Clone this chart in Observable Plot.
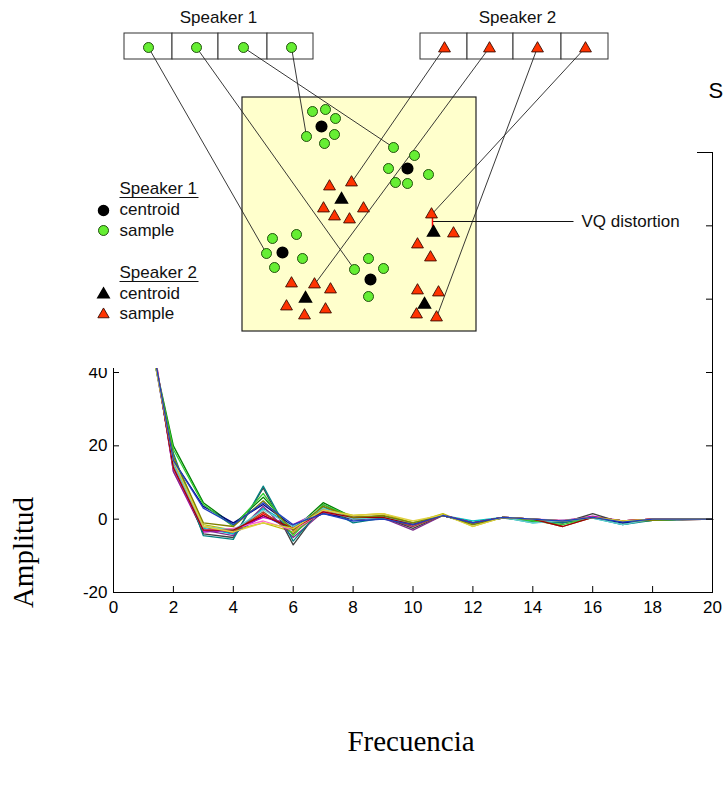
<!DOCTYPE html>
<html>
<head>
<meta charset="utf-8">
<script src="https://cdn.jsdelivr.net/npm/d3@7"></script>
<script src="https://cdn.jsdelivr.net/npm/@observablehq/plot@0.6"></script>
<style>
  html, body { margin: 0; padding: 0; background: #fff; }
  #wrap { position: relative; width: 724px; height: 785px; overflow: hidden; }
  #wrap svg { display: block; }
</style>
</head>
<body>
<div id="wrap"></div>
<script>
// ---------------- Line chart data (Amplitud vs Frecuencia) ----------------
const freq = [1,2,3,4,5,6,7,8,9,10,11,12,13,14,15,16,17,18,19,20];
const xTicks = [0,2,4,6,8,10,12,14,16,18,20];
const yTicks = [-20,0,20,40,60,80,100];
const seriesNames = ["s1","s2","s3","s4","s5","s6","s7","s8","s9","s10","s11","s12","s13","s14","s15","s16","s17","s18"];
const seriesColors = ["#0000ff","#008000","#ff0000","#00bfbf","#bf00bf","#bfbf00","#404040","#7e2f8e","#000080",
                      "#008080","#a0522d","#33cc33","#ff66cc","#66cccc","#a00000","#808000","#e0d040","#1f3fbf"];
const s1  = [60, 15, -2.0, -4.0, 1.0, -3.0, 2.0, 0.5, 0.5, -1.5, 1.0, -1.0, 0.5, 0.0, -0.5, 0.5, -0.5, 0.0, 0.0, 0];
const s2  = [57, 20, 4.5, -1.5, 6.0, -3.0, 4.5, 0.5, 0.8, -1.0, 1.0, -1.0, 0.5, -0.5, -0.5, 0.5, -0.5, -0.3, 0.0, 0];
const s3  = [63, 14, -3.0, -3.5, 1.5, -2.5, 2.0, 0.0, 0.5, -1.5, 1.0, -1.0, 0.3, 0.0, -1.0, 0.5, -0.5, 0.0, -0.2, 0];
const s4  = [61, 16, -2.5, -4.0, 3.0, -2.0, 3.0, 0.0, 0.5, -1.0, 1.0, -0.5, 0.5, -1.0, -0.3, 0.3, -1.5, 0.0, 0.0, 0];
const s5  = [64, 13, -3.5, -3.0, 0.5, -1.5, 2.5, 0.5, 0.3, -2.0, 1.2, -1.0, 0.5, 0.0, -0.5, 0.8, -0.5, 0.0, 0.0, 0];
const s6  = [59, 17, -1.5, -3.0, -1.0, -3.5, 3.0, 1.0, 1.5, -1.0, 1.5, -2.0, 0.5, 0.0, -0.5, 0.5, -0.5, -0.3, 0.0, 0];
const s7  = [62, 15, -4.0, -5.0, 8.5, -7.0, 4.0, 0.0, 0.5, -2.5, 1.0, -1.0, 0.5, -0.5, -1.0, 1.5, -1.0, -0.3, 0.0, 0];
const s8  = [65, 13, -3.0, -4.5, 3.5, -5.0, 2.0, 0.0, 0.3, -3.0, 1.0, -1.0, 0.3, 0.0, -0.5, 0.5, -0.5, 0.0, 0.0, 0];
const s9  = [60, 16, 3.5, -1.0, 4.0, -2.0, 1.5, 0.0, 0.3, -1.5, 1.0, -1.0, 0.5, 0.0, -0.5, 0.5, -1.0, 0.0, 0.0, 0];
const s10 = [58, 18, -4.5, -5.5, 9.0, -6.0, 3.5, -1.0, 0.3, -1.5, 1.0, -1.0, 0.3, -0.5, -1.0, 0.5, -1.5, -0.3, -0.2, 0];
const s11 = [63, 14, -2.0, -3.5, 2.0, -4.0, 2.5, 0.0, 0.5, -2.0, 1.0, -1.0, 0.5, 0.0, -2.0, 0.5, -0.5, 0.0, 0.0, 0];
const s12 = [57, 19, 4.0, -2.0, 7.0, -4.5, 4.0, 0.5, 0.5, -1.0, 1.0, -1.5, 0.5, -0.5, -1.5, 0.5, -0.5, -0.3, 0.0, 0];
const s13 = [64, 14, -3.0, -2.5, -0.5, -3.0, 2.0, 0.5, 0.5, -1.5, 1.0, -1.0, 0.5, 0.0, -0.3, 0.5, -0.5, 0.0, 0.0, 0];
const s14 = [61, 15, -2.0, -3.0, 2.5, -2.0, 3.0, 0.0, 0.5, -1.0, 1.0, -1.0, 0.5, -1.0, -0.5, 0.3, -1.5, 0.0, 0.0, 0];
const s15 = [62, 14, -3.0, -3.0, 1.0, -2.5, 2.0, 0.5, 0.5, -1.5, 1.0, -1.0, 0.5, 0.0, -2.0, 0.5, -0.5, 0.0, 0.0, 0];
const s16 = [60, 17, -1.0, -2.0, 5.0, -3.0, 3.5, 0.5, 1.0, -1.0, 1.0, -1.5, 0.5, 0.0, -0.5, 0.5, -0.5, -0.3, 0.0, 0];
const s17 = [59, 16, -2.0, -3.5, -1.0, -2.5, 2.5, 1.0, 1.5, -0.5, 1.2, -2.0, 0.5, 0.0, -0.5, 0.5, -0.5, 0.0, 0.0, 0];
const s18 = [61, 16, 3.0, -1.5, 4.5, -1.5, 1.5, -0.5, 0.0, -1.5, 1.0, -1.0, 0.5, 0.0, -0.5, 0.5, -0.8, 0.0, 0.0, 0];
const seriesValues = [s1,s2,s3,s4,s5,s6,s7,s8,s9,s10,s11,s12,s13,s14,s15,s16,s17,s18];
const xLabel = "Frecuencia";
const yLabel = "Amplitud";
const titleFragment = "S";

// ---------------- VQ diagram data (diagram units) ----------------
const codebook1Cells = [[124,172],[172,218],[218,267],[267,313]];
const codebook2Cells = [[420,467],[467,513],[513,561],[561,608]];
const codebookY = [33, 59];
const codebook1X = [148,196,243,291];
const codebook2X = [444,489,537,585];
const codewordY = 47;
const featureBox = [242, 476, 97, 331];
const spk1Samples = [
  [312,111],[325,109],[335,118],[306,136],[334,134],[324,143],
  [393,147],[414,155],[388,168],[428,174],[395,182],[407,183],
  [272,238],[296,234],[266,253],[302,258],[274,267],
  [354,269],[368,258],[383,268],[368,296]
];
const spk1Centroids = [[321,126],[407,168],[282,252],[370,279]];
const spk2Samples = [
  [329,186],[351,182],[323,208],[363,208],[334,216],[349,219],
  [291,283],[314,284],[330,289],[286,306],[325,309],[304,315],
  [431,214],[453,233],[417,244],[430,257],
  [417,290],[438,292],[416,314],[436,317]
];
const spk2Centroids = [[341,199],[305,298],[433,232],[424,304]];
const codeLinks = [
  [148,47,266,253],[196,47,354,269],[243,47,393,147],[291,47,306,136],
  [444,47,351,182],[489,47,314,284],[537,47,436,317],[585,47,431,214]
];
const headerLabels = [["Speaker 1",218,17],["Speaker 2",517,17]];
const legendText = [["Speaker 1",119,188],["centroid",119,209],["sample",119,230],["Speaker 2",119,272],["centroid",119,293],["sample",119,313]];
const legendUnderline = [[119,198,197],[119,198,281]];
const legendBlackDot = [[103,210]];
const legendGreenDot = [[103,230]];
const legendBlackTri = [[103,294]];
const legendRedTri = [[103,314]];
const distortionRed = [432,217,432,228];
const distortionLeader = [432,221,573,221];
const distortionLabel = ["VQ distortion",581,221];

// ---------------- Build line chart ----------------
const rows = [];
seriesValues.forEach((vals, i) => vals.forEach((v, j) => rows.push({s: seriesNames[i], x: freq[j], v})));

const W = 724, H = 785, mL = 113, mR = 12, mT = 152, mB = 193;
const plotW = W - mL - mR, plotH = H - mT - mB;
const serif = "'Liberation Serif', 'Times New Roman', serif";

const chart = Plot.plot({
  width: W, height: H,
  marginLeft: mL, marginRight: mR, marginTop: mT, marginBottom: mB,
  x: {domain: [0, 20]},
  y: {domain: [-20, 100]},
  color: {domain: seriesNames, range: seriesColors},
  style: {fontFamily: "'Liberation Sans', Arial, sans-serif", fontSize: "17px", color: "#000", background: "#fff"},
  marks: [
    Plot.lineY(rows, {x: "x", y: "v", z: "s", stroke: "s", strokeWidth: 1.3}),
    Plot.frame({stroke: "#000", strokeWidth: 1}),
    Plot.tickX(xTicks, {x: d => d, insetTop: plotH - 6, stroke: "#000"}),
    Plot.tickX(xTicks, {x: d => d, insetBottom: plotH - 6, stroke: "#000"}),
    Plot.tickY(yTicks, {y: d => d, insetRight: plotW - 6, stroke: "#000"}),
    Plot.tickY(yTicks, {y: d => d, insetLeft: plotW - 6, stroke: "#000"}),
    Plot.axisX({ticks: xTicks, tickSize: 0, tickPadding: 8, label: null, fontSize: 17, tickFormat: d => String(d)}),
    Plot.axisY({ticks: yTicks, tickSize: 0, tickPadding: 6, label: null, fontSize: 17, tickFormat: d => String(d)}),
    Plot.text([yLabel], {frameAnchor: "left", dx: -90, dy: 180, rotate: -90, textAnchor: "middle", lineAnchor: "middle",
      fontSize: 29, fontFamily: serif, fill: "#000"}),
    Plot.text([xLabel], {frameAnchor: "bottom", dx: -2, dy: 149, textAnchor: "middle", lineAnchor: "middle",
      fontSize: 29, fontFamily: serif, fill: "#000"}),
    Plot.text([titleFragment], {frameAnchor: "top-right", dx: -4, dy: -62, textAnchor: "start", lineAnchor: "middle", fontSize: 22, fill: "#000"})
  ]
});

// ---------------- Build VQ diagram overlay ----------------
const DW = 697, DH = 368;
const toXY = a => ({x: a[0], y: a[1]});
const cellRows = [
  ...codebook1Cells.map(c => ({x1: c[0], x2: c[1], y1: codebookY[0], y2: codebookY[1]})),
  ...codebook2Cells.map(c => ({x1: c[0], x2: c[1], y1: codebookY[0], y2: codebookY[1]}))
];
const linkRows = codeLinks.map(l => ({x1: l[0], y1: l[1], x2: l[2], y2: l[3]}));

const diag = Plot.plot({
  width: DW, height: DH, margin: 0,
  x: {domain: [0, DW], range: [0, DW]},
  y: {domain: [0, DH], range: [0, DH]},
  axis: null,
  style: {fontFamily: "'Liberation Sans', Arial, sans-serif", fontSize: "17px", color: "#000", background: "#fff"},
  marks: [
    Plot.rect(cellRows, {x1: "x1", x2: "x2", y1: "y1", y2: "y2", fill: "#fff", stroke: "#333", strokeWidth: 1}),
    Plot.rect([featureBox], {x1: d => d[0], x2: d => d[1], y1: d => d[2], y2: d => d[3], fill: "#ffffcc", stroke: "#222", strokeWidth: 1.2}),
    Plot.link(linkRows, {x1: "x1", y1: "y1", x2: "x2", y2: "y2", stroke: "#222", strokeWidth: 0.9}),
    Plot.link([distortionLeader], {x1: d => d[0], y1: d => d[1], x2: d => d[2], y2: d => d[3], stroke: "#111", strokeWidth: 1}),
    Plot.link([distortionRed], {x1: d => d[0], y1: d => d[1], x2: d => d[2], y2: d => d[3], stroke: "#ff0000", strokeWidth: 1.5}),
    Plot.dot(codebook1X.map(x => ({x, y: codewordY})), {x: "x", y: "y", r: 5, fill: "#66ee33", stroke: "#124000", strokeWidth: 0.9}),
    Plot.dot(codebook2X.map(x => ({x, y: codewordY + 1})), {x: "x", y: "y", symbol: "triangle", r: 4.4, fill: "#ff3300", stroke: "#3a0a00", strokeWidth: 0.9}),
    Plot.dot(spk1Samples.map(toXY), {x: "x", y: "y", r: 5, fill: "#66ee33", stroke: "#124000", strokeWidth: 0.9}),
    Plot.dot(spk1Centroids.map(toXY), {x: "x", y: "y", r: 5.3, fill: "#000", stroke: "#000"}),
    Plot.dot(spk2Samples.map(toXY), {x: "x", y: "y", symbol: "triangle", r: 4.4, fill: "#ff3300", stroke: "#3a0a00", strokeWidth: 0.9}),
    Plot.dot(spk2Centroids.map(toXY), {x: "x", y: "y", symbol: "triangle", r: 4.4, fill: "#000", stroke: "#000"}),
    Plot.text(headerLabels, {x: d => d[1], y: d => d[2], text: d => d[0], fontSize: 17, textAnchor: "middle", lineAnchor: "middle", fill: "#111"}),
    Plot.text(legendText, {x: d => d[1], y: d => d[2], text: d => d[0], fontSize: 17, textAnchor: "start", lineAnchor: "middle", fill: "#111"}),
    Plot.link(legendUnderline, {x1: d => d[0], x2: d => d[1], y1: d => d[2], y2: d => d[2], stroke: "#111", strokeWidth: 1}),
    Plot.dot(legendBlackDot.map(toXY), {x: "x", y: "y", r: 5, fill: "#000", stroke: "#000"}),
    Plot.dot(legendGreenDot.map(toXY), {x: "x", y: "y", r: 5, fill: "#66ee33", stroke: "#124000", strokeWidth: 0.9}),
    Plot.dot(legendBlackTri.map(toXY), {x: "x", y: "y", symbol: "triangle", r: 4.2, fill: "#000", stroke: "#000"}),
    Plot.dot(legendRedTri.map(toXY), {x: "x", y: "y", symbol: "triangle", r: 4.2, fill: "#ff3300", stroke: "#3a0a00", strokeWidth: 0.9}),
    Plot.text([distortionLabel], {x: d => d[1], y: d => d[2], text: d => d[0], fontSize: 17, textAnchor: "start", lineAnchor: "middle", fill: "#111"})
  ]
});

const wrap = document.getElementById("wrap");
wrap.appendChild(chart);
diag.style.position = "absolute";
diag.style.left = "0px";
diag.style.top = "0px";
wrap.appendChild(diag);
</script>
</body>
</html>
